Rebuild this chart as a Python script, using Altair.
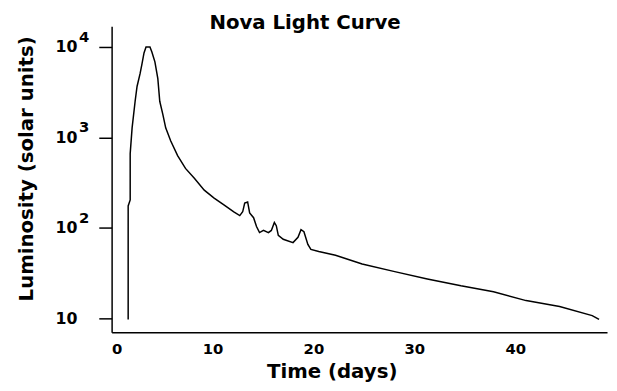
import altair as alt
import pandas as pd

# Light curve
days = [1.64, 1.64, 1.84, 1.84, 2.03, 2.33, 2.52, 2.82, 3.01, 3.21, 3.41,
        3.80, 3.99, 4.29, 4.58, 4.77, 5.07, 5.36, 5.85, 6.54,
        7.32, 8.20, 9.18, 10.16, 11.13, 12.11, 12.70, 12.99, 13.19, 13.48,
        13.68, 14.07, 14.36, 14.66, 15.05, 15.54, 15.83, 16.13, 16.32, 16.52,
        17.01, 17.98, 18.47, 18.77, 19.06, 19.45, 19.75, 20.53, 22.19, 24.83,
        28.06, 31.29, 34.62, 37.85, 41.08, 44.40, 47.63, 48.31]
luminosity = [9.8, 175, 204, 662, 1274, 2506, 3648, 5055, 6501, 8557, 9955,
              9955, 8776, 6823, 4458, 2506, 1807, 1274, 918, 631,
              455, 354, 262, 214, 180, 151, 137, 151, 189, 194,
              147, 130, 104, 89, 94, 89, 94, 115, 106, 83,
              75, 69, 79, 96, 91, 66, 58, 55, 50, 40,
              33, 27.4, 23.0, 19.8, 15.8, 13.6, 10.8, 9.8]

y_ticks = [10, 100, 1000, 10000]
x_ticks = [0, 10, 20, 30, 40]
exp_values = [10000, 1000, 100]
exp_labels = ["4", "3", "2"]

curve = pd.DataFrame({"t": days, "L": luminosity, "i": list(range(len(days)))})
exps = pd.DataFrame({"L": exp_values, "e": exp_labels})

FONT = "DejaVu Sans"

xscale = alt.Scale(domain=[0, 49.1], nice=False, zero=False)
yscale = alt.Scale(type="log", domain=[7.08, 16870], nice=False)

line = alt.Chart(curve).mark_line(color="black", strokeWidth=1.5).encode(
    x=alt.X("t:Q", scale=xscale,
            axis=alt.Axis(values=x_ticks, title="Time (days)", grid=False,
                          ticks=False, domainColor="black", domainWidth=1.5,
                          labelFont=FONT, labelFontSize=15, labelFontWeight="bold",
                          labelColor="black", labelPadding=10,
                          titleFont=FONT, titleFontSize=20, titleFontWeight="bold",
                          titleColor="black", titleBaseline="alphabetic",
                          titleX=223, titleY=46, titleAlign="center")),
    y=alt.Y("L:Q", scale=yscale,
            axis=alt.Axis(values=y_ticks, labelExpr="'10'", title="Luminosity (solar units)",
                          grid=False, tickSize=13, tickColor="black", tickWidth=1.5,
                          domainColor="black", domainWidth=1.5,
                          labelFont=FONT, labelFontSize=16, labelFontWeight="bold",
                          labelColor="black", labelPadding=22,
                          titleFont=FONT, titleFontSize=20, titleFontWeight="bold",
                          titleColor="black", titleBaseline="alphabetic",
                          titleX=-80, titleY=144, titleAlign="center")),
    order=alt.Order("i:Q"),
)

sup = alt.Chart(exps).mark_text(
    font=FONT, fontSize=15, fontWeight="bold", color="black",
    align="left", baseline="middle", dy=-10, clip=False
).encode(
    x=alt.value(-33),
    y=alt.Y("L:Q", scale=yscale),
    text="e:N",
)

chart = alt.layer(line, sup).properties(
    width=502,
    height=310,
    autosize="none",
    padding={"left": 105, "top": 16, "right": 2, "bottom": 49},
    title=alt.TitleParams("Nova Light Curve", font=FONT, fontSize=20, fontWeight="bold",
                          color="black", anchor="middle", frame="group", dx=-55,
                          baseline="alphabetic", offset=0, dy=23),
).configure_view(stroke=None)

chart.save("out.html", embed_options={"renderer": "svg", "actions": False})
